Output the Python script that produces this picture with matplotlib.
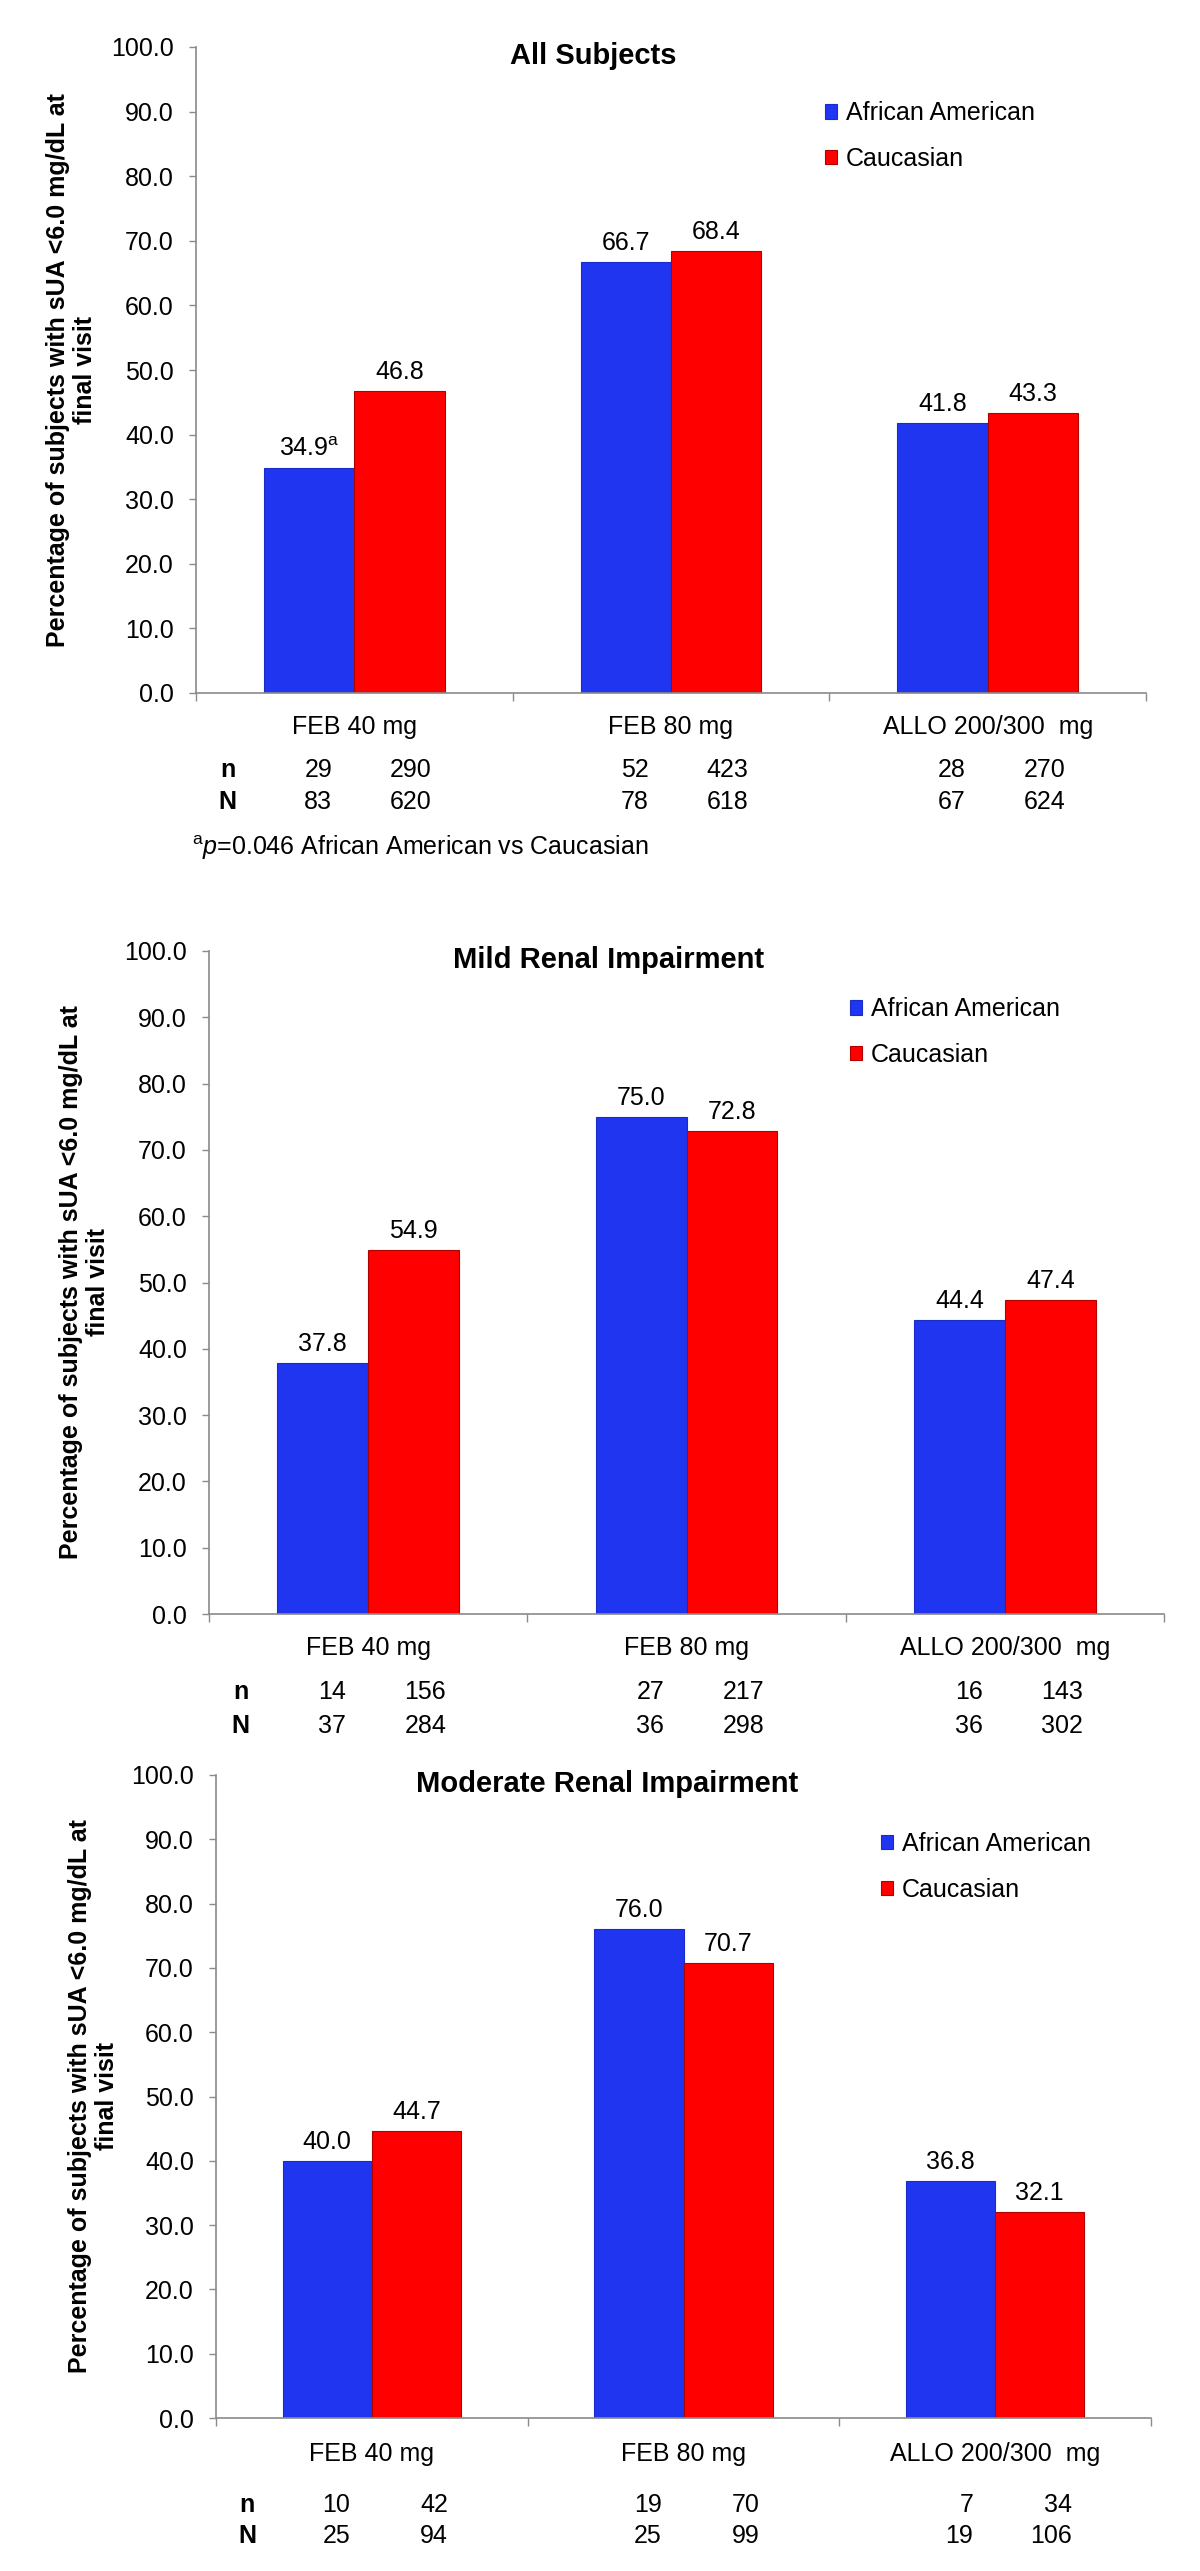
import matplotlib.pyplot as plt
import numpy as np

plt.rcParams['font.family'] = ['Liberation Sans', 'DejaVu Sans']
plt.rcParams['mathtext.fontset'] = 'custom'
plt.rcParams['mathtext.rm'] = 'Liberation Sans'
plt.rcParams['mathtext.it'] = 'Liberation Sans:italic'

# Data
groups = ["FEB 40 mg", "FEB 80 mg", "ALLO 200/300  mg"]
titles = ["All Subjects", "Mild Renal Impairment", "Moderate Renal Impairment"]
series = ["African American", "Caucasian"]

aa_pct = [[34.9, 66.7, 41.8], [37.8, 75.0, 44.4], [40.0, 76.0, 36.8]]
cau_pct = [[46.8, 68.4, 43.3], [54.9, 72.8, 47.4], [44.7, 70.7, 32.1]]
aa_marks = [["a", "", ""], ["", "", ""], ["", "", ""]]
aa_n = [[29, 52, 28], [14, 27, 16], [10, 19, 7]]
cau_n = [[290, 423, 270], [156, 217, 143], [42, 70, 34]]
aa_N = [[83, 78, 67], [37, 36, 36], [25, 25, 19]]
cau_N = [[620, 618, 624], [284, 298, 302], [94, 99, 106]]
footnote = "$^{\\mathrm{a}}\\mathit{p}$=0.046 African American vs Caucasian"

ylabel = "Percentage of subjects with sUA <6.0 mg/dL at\nfinal visit"
yticks = np.arange(0, 101, 10)

blue = "#1f35f0"
red = "#ff0000"
gray = "#8a8a8a"

W, H = 1200, 2571
fig = plt.figure(figsize=(W / 100, H / 100), dpi=100)

# axes boxes in pixels: left, top, right, bottom
boxes = [(196, 47, 1146, 693), (209, 951, 1164, 1614), (216, 1775, 1151, 2418)]
legend_xy = [(0.662, 0.916), (0.671, 0.930), (0.711, 0.911)]
row_off = [(77, 109), (78, 112), (87, 118)]
cat_pad = [16, 16, 17.5]

px = 0.72  # pixels -> points
width = 0.2857
x = np.arange(len(groups))

for i in range(3):
    l, t, r, b = boxes[i]
    ax = fig.add_axes([l / W, 1 - b / H, (r - l) / W, (b - t) / H])

    b1 = ax.bar(x - width / 2, aa_pct[i], width, color=blue, edgecolor="#1a2cc8", linewidth=0.8)
    b2 = ax.bar(x + width / 2, cau_pct[i], width, color=red, edgecolor="#b00000", linewidth=0.8)

    lab1 = ["%.1f" % v + ("$^{\\mathrm{%s}}$" % m if m else "") for v, m in zip(aa_pct[i], aa_marks[i])]
    lab2 = ["%.1f" % v for v in cau_pct[i]]
    ax.bar_label(b1, labels=lab1, padding=5, fontsize=18)
    ax.bar_label(b2, labels=lab2, padding=5, fontsize=18)

    ax.set_xlim(-0.5, 2.5)
    ax.set_ylim(0, 100)
    ax.set_yticks(yticks)
    ax.set_yticklabels(["%.1f" % v for v in yticks])
    ax.tick_params(axis="y", length=5, width=1, color=gray, pad=11, labelsize=18)

    ax.set_xticks(x)
    ax.set_xticklabels(groups)
    ax.tick_params(axis="x", which="major", length=0, pad=cat_pad[i], labelsize=18)
    ax.set_xticks(np.arange(-0.5, 3, 1), minor=True)
    ax.tick_params(axis="x", which="minor", length=6, width=1, color=gray)

    for s in ["top", "right"]:
        ax.spines[s].set_visible(False)
    for s in ["left", "bottom"]:
        ax.spines[s].set_color(gray)
        ax.spines[s].set_linewidth(1.2)

    ax.set_ylabel(ylabel, fontsize=18, fontweight="bold", linespacing=1.15)
    ax.yaxis.set_label_coords(-0.104, 0.5)

    ax.text(0.418, 0.986, titles[i], transform=ax.transAxes, ha="center", va="center",
            fontsize=21, fontweight="bold")

    ax.legend([b1, b2], series, loc="upper left", bbox_to_anchor=legend_xy[i],
              frameon=False, fontsize=18, handlelength=0.5, handleheight=0.5,
              handletextpad=0.35, labelspacing=0.87, borderpad=0, borderaxespad=0)

    # n / N rows under the category labels
    for row, (lbl, va_, vc_) in enumerate([("n", aa_n[i], cau_n[i]), ("N", aa_N[i], cau_N[i])]):
        dy = -row_off[i][row] * px
        ax.annotate(lbl, xy=(-0.40, 0), xycoords=("data", "axes fraction"),
                    xytext=(0, dy), textcoords="offset points",
                    ha="center", va="center", fontsize=18, fontweight="bold")
        for k in range(len(groups)):
            ax.annotate(str(va_[k]), xy=(x[k] - 0.07, 0), xycoords=("data", "axes fraction"),
                        xytext=(0, dy), textcoords="offset points",
                        ha="right", va="center", fontsize=18)
            ax.annotate(str(vc_[k]), xy=(x[k] + 0.245, 0), xycoords=("data", "axes fraction"),
                        xytext=(0, dy), textcoords="offset points",
                        ha="right", va="center", fontsize=18)

    if i == 0:
        ax.annotate(footnote, xy=(0, 0), xycoords="axes fraction",
                    xytext=(-4 * px, -155 * px), textcoords="offset points",
                    ha="left", va="center", fontsize=18)

fig.savefig("out.png", dpi=100)
